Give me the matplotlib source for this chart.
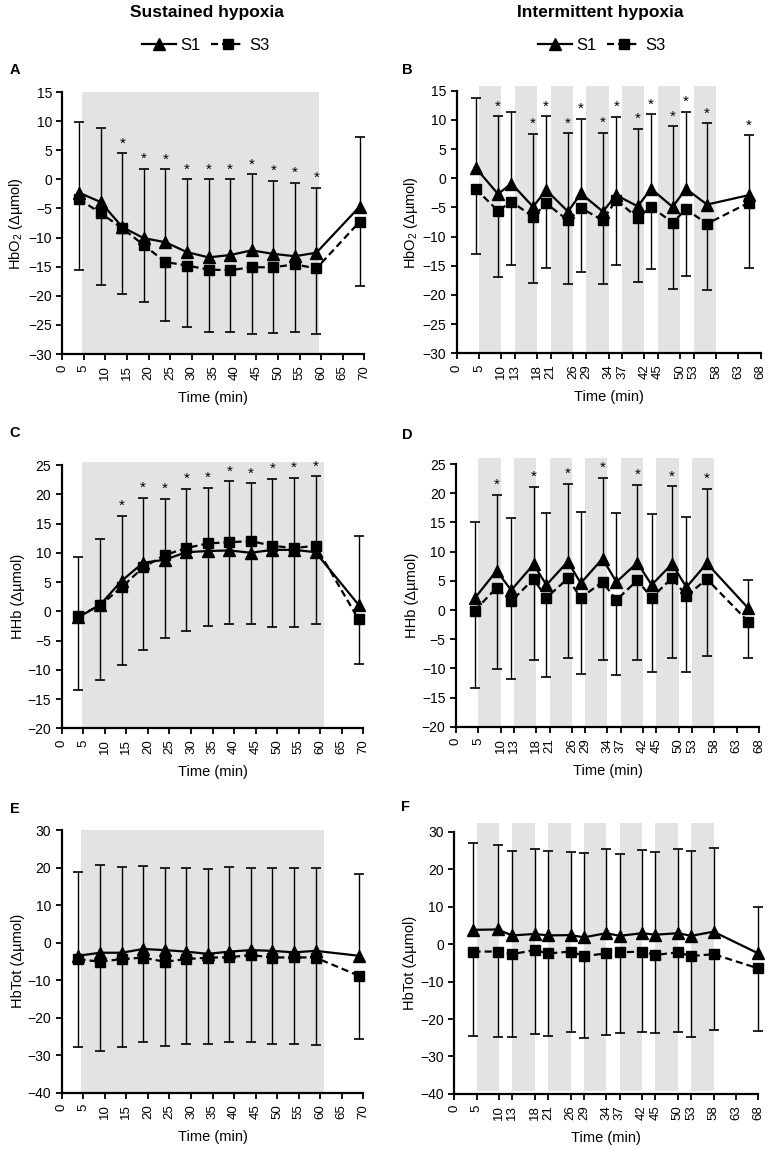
import numpy as np
import matplotlib
matplotlib.use('Agg')
from matplotlib import pyplot as plt
from matplotlib.lines import Line2D

plt.rcParams['font.family'] = ['Liberation Sans', 'DejaVu Sans']
plt.rcParams['mathtext.fontset'] = 'custom'
plt.rcParams['mathtext.rm'] = 'Liberation Sans'
plt.rcParams['mathtext.default'] = 'regular'

# sustained hypoxia (A, C, E)
t_sus = [3.9, 8.9, 13.9, 18.9, 23.9, 28.9, 33.9, 38.9, 43.9, 48.9, 53.9, 58.9, 68.9]
sus_ticks = list(range(0, 71, 5))

hbo2_s1 = [-2.3, -3.9, -8.2, -10.1, -10.8, -12.5, -13.4, -13.0, -12.2, -12.8, -13.2, -12.6, -4.7]
hbo2_s3 = [-3.4, -5.8, -8.4, -11.3, -14.2, -14.8, -15.5, -15.6, -15.1, -15.1, -14.6, -15.3, -7.3]
hbo2_up = [9.8, 8.9, 4.45, 1.8, 1.7, 0.05, 0.05, 0.0, 0.85, -0.2, -0.6, -1.4, 7.3]
hbo2_lo = [-15.6, -18.1, -19.7, -21.1, -24.3, -25.3, -26.2, -26.2, -26.5, -26.4, -26.2, -26.5, -18.4]
hbo2_sig = [2, 3, 4, 5, 6, 7, 8, 9, 10, 11]

hhb_s1 = [-1.0, 1.1, 5.2, 8.3, 8.8, 10.1, 10.3, 10.4, 10.0, 10.5, 10.5, 10.1, 1.1]
hhb_s3 = [-0.8, 1.0, 4.1, 7.5, 9.6, 10.8, 11.6, 11.8, 12.0, 11.2, 10.8, 11.2, -1.4]
hhb_up = [9.3, 12.4, 16.3, 19.4, 19.2, 20.9, 21.1, 22.2, 21.9, 22.6, 22.8, 23.1, 12.9]
hhb_lo = [-13.4, -11.8, -9.2, -6.6, -4.6, -3.3, -2.5, -2.2, -2.2, -2.7, -2.7, -2.2, -9.0]
hhb_sig = [2, 3, 4, 5, 6, 7, 8, 9, 10, 11]

tot_s1 = [-3.5, -2.7, -2.7, -1.7, -2.0, -2.4, -3.0, -2.4, -2.0, -2.2, -2.6, -2.2, -3.5]
tot_s3 = [-4.4, -5.1, -4.4, -4.0, -5.1, -4.4, -4.0, -3.9, -3.3, -4.0, -3.9, -4.0, -8.8]
tot_up = [18.9, 20.8, 20.2, 20.5, 20.0, 20.0, 19.6, 20.2, 20.0, 20.0, 20.0, 19.8, 18.2]
tot_lo = [-27.7, -28.8, -27.7, -26.4, -27.6, -27.0, -27.0, -26.4, -26.4, -27.0, -27.0, -27.2, -25.8]

# intermittent hypoxia (B, D, F)
int_ticks = [0, 5, 10, 13, 18, 21, 26, 29, 34, 37, 42, 45, 50, 53, 58, 63, 68]
bands = [(5, 10), (13, 18), (21, 26), (29, 34), (37, 42), (45, 50), (53, 58)]
t_int_b = [4.25, 9.25, 12.25, 17.1, 20.0, 24.9, 27.8, 32.7, 35.7, 40.5, 43.5, 48.3, 51.3, 56.0, 65.3]
t_int_d = [4.2, 9.1, 12.4, 17.4, 20.3, 25.1, 28.0, 32.9, 36.0, 40.7, 43.9, 48.5, 51.7, 56.3, 65.6]
t_int_f = [4.3, 9.7, 12.9, 18, 21, 26, 29, 34, 37, 42, 45, 50, 53, 58, 68]

ihbo2_s1 = [1.8, -2.7, -0.9, -4.9, -2.0, -5.7, -2.6, -5.7, -2.9, -4.8, -1.8, -4.9, -1.8, -4.5, -2.9]
ihbo2_s3 = [-1.8, -5.6, -4.0, -6.6, -4.3, -7.2, -5.1, -7.2, -3.7, -6.8, -4.9, -7.6, -5.3, -7.8, -4.2]
ihbo2_up = [13.75, 10.6, 11.3, 7.6, 10.6, 7.7, 10.2, 7.8, 10.5, 8.5, 11.0, 8.9, 11.4, 9.4, 7.4]
ihbo2_lo = [-13.0, -17.0, -14.9, -18.0, -15.4, -18.1, -16.1, -18.1, -14.8, -17.8, -15.5, -18.9, -16.8, -19.2, -15.4]
ihbo2_sig = [1, 3, 4, 5, 6, 7, 8, 9, 10, 11, 12, 13, 14]

ihhb_s1 = [2.0, 6.7, 3.4, 7.8, 4.3, 8.3, 4.6, 8.8, 4.8, 8.1, 4.3, 7.9, 3.9, 8.0, 0.3]
ihhb_s3 = [-0.1, 3.8, 1.5, 5.3, 2.1, 5.4, 2.1, 4.8, 1.7, 5.1, 2.1, 5.5, 2.4, 5.3, -2.0]
ihhb_up = [15.1, 19.7, 15.7, 21.1, 16.7, 21.6, 16.8, 22.7, 16.7, 21.5, 16.4, 21.2, 16.0, 20.8, 5.1]
ihhb_lo = [-13.3, -10.1, -11.9, -8.6, -11.4, -8.3, -10.9, -8.6, -11.1, -8.6, -10.7, -8.3, -10.6, -7.9, -8.2]
ihhb_sig = [1, 3, 5, 7, 9, 11, 13]

itot_s1 = [3.8, 3.9, 2.3, 2.7, 2.3, 2.4, 1.8, 2.9, 2.2, 2.9, 2.5, 2.9, 2.2, 3.3, -2.5]
itot_s3 = [-2.0, -2.0, -2.7, -1.6, -2.5, -2.0, -3.2, -2.5, -2.2, -2.0, -2.9, -2.2, -3.2, -2.7, -6.5]
itot_up = [26.9, 26.5, 24.9, 25.3, 24.9, 24.6, 24.2, 25.3, 24.0, 25.1, 24.7, 25.5, 24.8, 25.6, 10.0]
itot_lo = [-24.4, -24.9, -24.7, -24.1, -24.4, -23.5, -25.1, -24.2, -23.8, -23.5, -23.6, -23.5, -24.7, -22.9, -23.3]

shade = '#e3e3e3'


def draw(ax, t, s1, s3, up, lo, sig, ylim, ystep, xmax, xticks, ylabel):
    ax.vlines(t, s1, up, color='black', lw=1.0, zorder=2, clip_on=False)
    ax.vlines(t, lo, s3, color='black', lw=1.0, zorder=2, clip_on=False)
    ax.plot(t, up, ls='none', marker='_', ms=7, mew=1.2, color='black', zorder=2, clip_on=False)
    ax.plot(t, lo, ls='none', marker='_', ms=7, mew=1.2, color='black', zorder=2, clip_on=False)
    ax.plot(t, s3, color='black', lw=1.6, ls=(0, (3.2, 1.8)), marker='s', ms=7.5, zorder=3,
            clip_on=False)
    ax.plot(t, s1, color='black', lw=1.6, marker='^', ms=9, zorder=4, clip_on=False)
    for i in sig:
        ax.annotate('*', (t[i], up[i]), xytext=(0, 2), textcoords='offset points',
                    ha='center', va='bottom', fontsize=11)
    ax.set_xlim(0, xmax)
    ax.set_ylim(*ylim)
    ax.set_xticks(xticks)
    ax.set_xticklabels([str(v) for v in xticks], rotation=90, fontsize=9.5)
    ax.set_yticks(np.arange(ylim[0], ylim[1] + 1, ystep))
    ax.tick_params(axis='y', labelsize=10, length=4, width=1.3)
    ax.tick_params(axis='x', length=4, width=1.3, pad=4)
    ax.spines['top'].set_visible(False)
    ax.spines['right'].set_visible(False)
    ax.spines['left'].set_linewidth(1.6)
    ax.spines['bottom'].set_linewidth(1.6)
    ax.set_xlabel('Time (min)', fontsize=10.5, labelpad=8)
    ax.set_ylabel(ylabel, fontsize=10.5, labelpad=2)


fig = plt.figure(figsize=(7.71, 11.49), dpi=100)

axA = fig.add_axes([0.0808, 0.6919, 0.3917, 0.228])
axB = fig.add_axes([0.5923, 0.6925, 0.3943, 0.2285])
axC = fig.add_axes([0.0800, 0.3661, 0.3913, 0.2292])
axD = fig.add_axes([0.5914, 0.3675, 0.3930, 0.2286])
axE = fig.add_axes([0.0800, 0.0490, 0.3913, 0.2286])
axF = fig.add_axes([0.5892, 0.0479, 0.3943, 0.2283])

axA.axvspan(4.6, 59.5, color=shade, lw=0, zorder=0)
axC.axvspan(4.8, 60.9, ymax=1.01, color=shade, lw=0, zorder=0, clip_on=False)
axE.axvspan(4.5, 60.9, color=shade, lw=0, zorder=0)
for a, b in bands:
    axB.axvspan(a, b, ymax=1.02, color=shade, lw=0, zorder=0).set_clip_on(False)
    axD.axvspan(a, b, ymax=1.025, color=shade, lw=0, zorder=0).set_clip_on(False)
    axF.axvspan(a, b, ymin=0.013, ymax=1.032, color=shade, lw=0, zorder=0).set_clip_on(False)

draw(axA, t_sus, hbo2_s1, hbo2_s3, hbo2_up, hbo2_lo, hbo2_sig, (-30, 15), 5, 70, sus_ticks,
     'HbO$_2$ (Δµmol)')
draw(axC, t_sus, hhb_s1, hhb_s3, hhb_up, hhb_lo, hhb_sig, (-20, 25), 5, 70, sus_ticks,
     'HHb (Δµmol)')
draw(axE, t_sus, tot_s1, tot_s3, tot_up, tot_lo, [], (-40, 30), 10, 70, sus_ticks,
     'HbTot (Δµmol)')
draw(axB, t_int_b, ihbo2_s1, ihbo2_s3, ihbo2_up, ihbo2_lo, ihbo2_sig, (-30, 15), 5, 68, int_ticks,
     'HbO$_2$ (Δµmol)')
draw(axD, t_int_d, ihhb_s1, ihhb_s3, ihhb_up, ihhb_lo, ihhb_sig, (-20, 25), 5, 68, int_ticks,
     'HHb (Δµmol)')
draw(axF, t_int_f, itot_s1, itot_s3, itot_up, itot_lo, [], (-40, 30), 10, 68, int_ticks,
     'HbTot (Δµmol)')

# column titles and legends
fig.text(207 / 771, 1 - 13 / 1149, 'Sustained hypoxia', ha='center', va='center',
         fontsize=12.5, fontweight='bold')
fig.text(600 / 771, 1 - 13 / 1149, 'Intermittent hypoxia', ha='center', va='center',
         fontsize=12.5, fontweight='bold')

handles = [Line2D([], [], color='black', lw=1.6, marker='^', ms=9),
           Line2D([], [], color='black', lw=1.6, ls=(0, (3.2, 1.8)), marker='s', ms=7.5)]
for cx in (206, 602):
    fig.legend(handles, ['S1', 'S3'], loc='center', bbox_to_anchor=(cx / 771, 1 - 45 / 1149),
               ncol=2, frameon=False, fontsize=12, handlelength=2.0, handletextpad=0.3,
               columnspacing=0.6, borderaxespad=0)

# panel letters
for lab, px, py in [('A', 15, 70), ('B', 407, 70), ('C', 15, 433),
                    ('D', 407, 435), ('E', 15, 809), ('F', 405, 807)]:
    fig.text(px / 771, 1 - py / 1149, lab, ha='center', va='center',
             fontsize=10.5, fontweight='bold')

fig.savefig('out.png', dpi=100)
